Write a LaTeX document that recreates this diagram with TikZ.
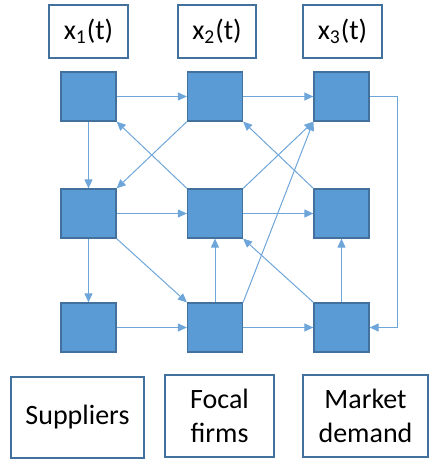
\documentclass[tikz,border=0pt]{standalone}
\usepackage{fontspec}
\setmainfont{Carlito}
\usetikzlibrary{arrows.meta}
\definecolor{boxfill}{HTML}{5B9BD5}
\definecolor{boxline}{HTML}{41719C}
\definecolor{linkcol}{HTML}{6FA6DA}
\begin{document}
\begin{tikzpicture}[x=0.5pt, y=-0.5pt,
  firm/.style={rectangle, draw=boxline, fill=boxfill, line width=0.6pt, minimum width=27.5pt, minimum height=24.5pt, inner sep=0},
  label/.style={rectangle, draw=boxline, line width=0.7pt, inner sep=0, align=center, font=\fontsize{14}{17}\selectfont},
  link/.style={draw=linkcol, line width=0.5pt, -{Triangle[length=4.5pt, width=4pt]}}]
\useasboundingbox (0, 0) rectangle (429, 460);

% state labels
\node [label, minimum width=39.5pt, minimum height=26.5pt] (l1) at (88.5, 31.5) {x\textsubscript{1}(t)};
\node [label, minimum width=39pt, minimum height=26.5pt] (l2) at (217, 31.5) {x\textsubscript{2}(t)};
\node [label, minimum width=39.5pt, minimum height=26.5pt] (l3) at (342.5, 31.5) {x\textsubscript{3}(t)};

% firms
\node [firm] (n1) at (88.5, 96.5) {};
\node [firm] (n2) at (215, 96.5) {};
\node [firm] (n3) at (341.5, 96.5) {};
\node [firm] (n4) at (88.5, 213.5) {};
\node [firm] (n5) at (215, 213.5) {};
\node [firm] (n6) at (341.5, 213.5) {};
\node [firm] (n7) at (88.5, 327.5) {};
\node [firm] (n8) at (215, 327.5) {};
\node [firm] (n9) at (341.5, 327.5) {};

% tiers
\node [label, minimum width=66.5pt, minimum height=40.5pt] (t1) at (77.5, 417.5) {Suppliers};
\node [label, minimum width=54.5pt, minimum height=41pt] (t2) at (219.5, 416) {Focal\\firms};
\node [label, minimum width=62.5pt, minimum height=41pt] (t3) at (365.5, 416) {Market\\demand};

\draw [link] (n1) -- (n2);
\draw [link] (n2) -- (n3);
\draw [link] (n4) -- (n5);
\draw [link] (n5) -- (n6);
\draw [link] (n7) -- (n8);
\draw [link] (n8) -- (n9);
\draw [link] (n1) -- (n4);
\draw [link] (n4) -- (n7);
\draw [link] (n8) -- (n5);
\draw [link] (n9) -- (n6);
\draw [link] (n2.south west) -- (n4.north east);
\draw [link] (n5.north west) -- (n1.south east);
\draw [link] (n5.north east) -- (n3.south west);
\draw [link] (n8.north east) -- (n3.south west);
\draw [link] (n6.north west) -- (n2.south east);
\draw [link] (n4.south east) -- (n8.north west);
\draw [link] (n9.north west) -- (n5.south east);
\draw [link] (n3.east) -- ++(28, 0) |- (n9.east);

\end{tikzpicture}
\end{document}
